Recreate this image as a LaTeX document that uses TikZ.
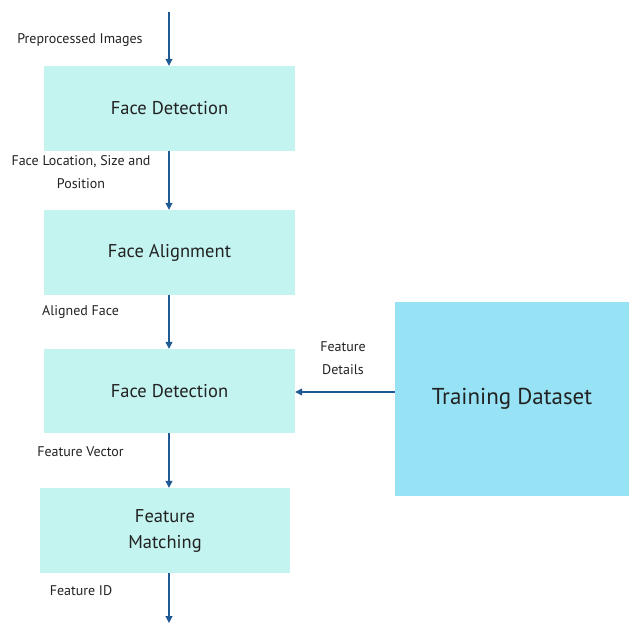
\documentclass[tikz,border=0pt]{standalone}
\usepackage{fontspec}
\setmainfont{PT Sans}
\usetikzlibrary{arrows.meta}
\definecolor{boxc}{HTML}{C3F4F0}
\definecolor{trainc}{HTML}{97E3F5}
\definecolor{arrc}{HTML}{1F5A94}
\definecolor{txtc}{HTML}{222222}
\begin{document}
\begin{tikzpicture}[x=1pt,y=-1pt,
  stepbox/.style={fill=boxc,draw=none,minimum width=251pt,minimum height=85pt,inner sep=0pt,font=\fontsize{18.5}{26}\selectfont,text=txtc,align=center},
  lbl/.style={font=\fontsize{14}{23}\selectfont,text=txtc,align=center,inner sep=0pt},
  arr/.style={draw=arrc,line width=1.2pt,-{Triangle[length=7pt,width=7pt]}}]
\useasboundingbox (0,0) rectangle (629,623);
\node[stepbox] (b1) at (169.5,108.5) {\raisebox{-2pt}{Face Detection}};
\node[stepbox] (b2) at (169.5,252.5) {\raisebox{-2pt}{Face Alignment}};
\node[stepbox,minimum height=84pt] (b3) at (169.5,391) {\raisebox{-1pt}{Face Detection}};
\node[stepbox,minimum width=250pt] (b4) at (165,530.5) {\raisebox{-3pt}{\parbox{200pt}{\centering Feature\\Matching}}};
\node[fill=trainc,minimum width=234pt,minimum height=194pt,inner sep=0pt,font=\fontsize{23}{26}\selectfont,text=txtc] (td) at (512,399) {\raisebox{3pt}{Training Dataset}};
\coordinate (top) at (169,12);
\coordinate (bot) at (169,623);
\draw[arr] (top) -- (b1.north -| top);
\draw[arr] (b1.south -| top) -- (b2.north -| top);
\draw[arr] (b2.south -| top) -- (b3.north -| top);
\draw[arr] (b3.south -| top) -- (b4.north -| top);
\draw[arr] (b4.south -| top) -- (bot);
\coordinate (hy) at (0,392);
\draw[arr] (td.west |- hy) -- (b3.east |- hy);
\node[lbl] (l1) at (80,40) {Preprocessed Images};
\node[lbl] (l2) at (81,172) {Face Location, Size and\\Position};
\node[lbl] (l3) at (80.5,312) {Aligned Face};
\node[lbl] (l4) at (343,358) {Feature\\Details};
\node[lbl] (l5) at (80.5,452) {Feature Vector};
\node[lbl] (l6) at (81,591) {Feature ID};
\end{tikzpicture}
\end{document}
